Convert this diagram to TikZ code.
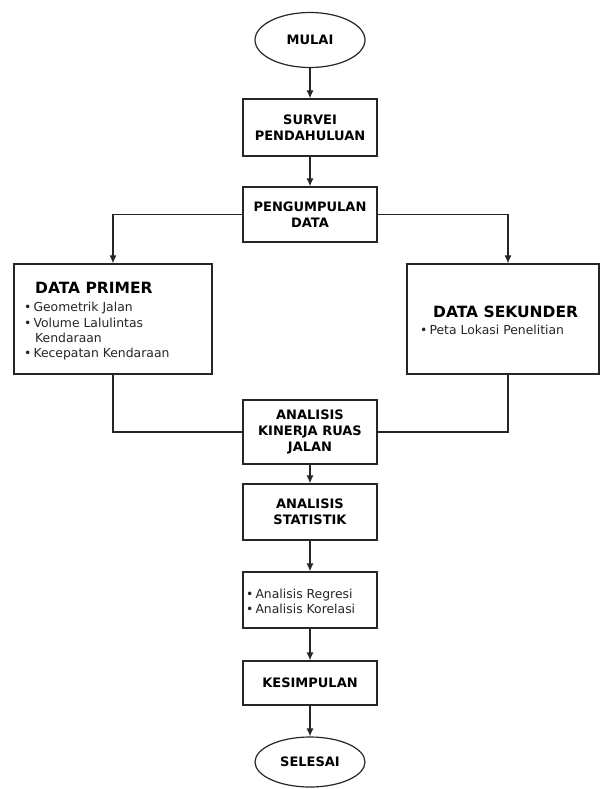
\documentclass[tikz,border=0pt]{standalone}
\usepackage{fontspec}
\setmainfont{DejaVu Sans}
\usetikzlibrary{shapes.geometric,arrows.meta}
\begin{document}
\begin{tikzpicture}[x=1pt,y=-1pt,
  box/.style={draw=black!85,line width=1.2pt,rectangle,minimum width=134pt,inner sep=0pt,align=center,font=\bfseries\fontsize{13}{16}\selectfont},
  term/.style={draw=black!85,line width=1.2pt,ellipse,inner sep=0pt,minimum width=110pt,font=\bfseries\fontsize{13}{16}\selectfont},
  bigbox/.style={draw=black!85,line width=1.2pt,rectangle,inner sep=0pt},
  txt/.style={anchor=base west,inner sep=0pt,text=black!85,font=\fontsize{12.4}{15}\selectfont},
  ttl/.style={anchor=base west,inner sep=0pt,font=\bfseries\fontsize{15.5}{18}\selectfont},
  arr/.style={draw=black!85,line width=1.2pt,-{Latex[length=8pt,width=7pt]}},
  ln/.style={draw=black!85,line width=1.2pt}]
\fill[white] (0,0) rectangle (601,789);
\useasboundingbox (0,0) rectangle (601,789);

\node[term,minimum height=55pt] (mulai) at (310,40) {MULAI};
\node[box,minimum height=57pt] (survei) at (310,127.5) {SURVEI\\PENDAHULUAN};
\node[box,minimum height=55pt] (kumpul) at (310,214.5) {PENGUMPULAN\\DATA};

\node[bigbox,minimum width=198pt,minimum height=110pt] (primer) at (113,319) {};
\node[ttl] (pt) at (35,293) {DATA PRIMER};
\node[txt] (p1) at (24,311) {•\hspace{2pt}Geometrik Jalan};
\node[txt] (p2) at (24,327) {•\hspace{2pt}Volume Lalulintas};
\node[txt] (p3) at (35,342) {Kendaraan};
\node[txt] (p4) at (24,357) {•\hspace{2pt}Kecepatan Kendaraan};

\node[bigbox,minimum width=192pt,minimum height=110pt] (sekunder) at (503,319) {};
\node[ttl] (st) at (433,317) {DATA SEKUNDER};
\node[txt] (s1) at (420,334) {•\hspace{2pt}Peta Lokasi Penelitian};

\node[box,minimum height=64pt] (kinerja) at (310,432) {ANALISIS\\KINERJA RUAS\\JALAN};
\node[box,minimum height=56pt] (statistik) at (310,512) {ANALISIS\\STATISTIK};
\node[bigbox,minimum width=134pt,minimum height=56pt] (regresi) at (310,600) {};
\node[txt] (r1) at (246,598) {•\hspace{2pt}Analisis Regresi};
\node[txt] (r2) at (246,613) {•\hspace{2pt}Analisis Korelasi};
\node[box,minimum height=44pt] (simpul) at (310,683) {KESIMPULAN};
\node[term,minimum height=50pt] (selesai) at (310,762) {SELESAI};

\draw[arr] (mulai) -- (survei);
\draw[arr] (survei) -- (kumpul);
\draw[arr] (kumpul.west) -| (primer.north);
\draw[arr] (kumpul.east) -| ([xshift=5pt]sekunder.north);
\draw[ln] (primer.south) |- (kinerja.west);
\draw[ln] ([xshift=5pt]sekunder.south) |- (kinerja.east);
\draw[arr] (kinerja) -- (statistik);
\draw[arr] (statistik) -- (regresi);
\draw[arr] (regresi) -- (simpul);
\draw[arr] (simpul) -- (selesai);
\end{tikzpicture}
\end{document}
